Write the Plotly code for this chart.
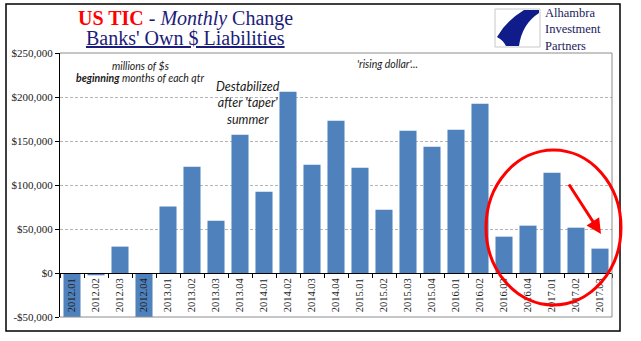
import plotly.graph_objects as go

# Monthly change in banks' own dollar liabilities (US TIC), millions of $
periods = ["2012.01", "2012.02", "2012.03", "2012.04",
           "2013.01", "2013.02", "2013.03", "2013.04",
           "2014.01", "2014.02", "2014.03", "2014.04",
           "2015.01", "2015.02", "2015.03", "2015.04",
           "2016.01", "2016.02", "2016.03", "2016.04",
           "2017.01", "2017.02", "2017.03"]
change = [-65000, -2600, 30000, -58000,
          75500, 120800, 59500, 157200,
          92400, 206100, 123100, 173100,
          119700, 72000, 161700, 143600,
          162900, 192400, 41300, 53800,
          114000, 51500, 27700]

y_ticks = [-50000, 0, 50000, 100000, 150000, 200000, 250000]
y_tick_text = ["-$50,000", "$0", "$50,000", "$100,000", "$150,000", "$200,000", "$250,000"]
y_range = [-50000, 250000]

W, H = 641, 341
ML, MR, MT, MB = 60, 29, 53, 24
PW, PH = W - ML - MR, H - MT - MB


def px(x):
    return (x - ML) / PW


def py(y):
    return (H - MB - y) / PH


def path(points, closed=True):
    cmds = []
    for p in points:
        op, coords = p[0], p[1:]
        vals = []
        for i in range(0, len(coords), 2):
            vals.append(f"{px(coords[i]):.5f},{py(coords[i + 1]):.5f}")
        cmds.append(op + " " + " ".join(vals))
    return " ".join(cmds) + (" Z" if closed else "")


NAVY = "#1c1c7a"
BAR = "#4f81bd"
SERIF = "Liberation Serif"
SANS = "Lato"

fig = go.Figure(go.Bar(x=periods, y=change, marker=dict(color=BAR, line=dict(width=0)),
                       width=0.71, hoverinfo="x+y"))

fig.update_layout(
    width=W, height=H,
    margin=dict(l=ML, r=MR, t=MT, b=MB),
    paper_bgcolor="white", plot_bgcolor="white",
    showlegend=False,
    xaxis=dict(type="category", anchor="free", position=(0 - y_range[0]) / (y_range[1] - y_range[0]),
               showline=True, linecolor="#000000", linewidth=1,
               ticks="outside", tickson="boundaries", ticklen=4, tickcolor="#000000",
               tickangle=-90, showgrid=False, zeroline=False,
               tickfont=dict(family=SERIF, size=10.5, color="#1a1a1a")),
    yaxis=dict(range=y_range, tickvals=y_ticks, ticktext=y_tick_text,
               showline=True, linecolor="#000000", linewidth=1,
               ticks="outside", ticklen=4, tickcolor="#000000",
               showgrid=True, gridcolor="#b4b4b4", griddash="3px,2px", gridwidth=1,
               zeroline=False,
               tickfont=dict(family=SERIF, size=11, color="#1a1a1a")),
)

shapes = []
# outer frame
shapes.append(dict(type="rect", xref="paper", yref="paper", x0=px(6), x1=px(620), y0=py(331), y1=py(4),
                   line=dict(color="#000000", width=1.5), layer="below"))
# plot-area frame (top, right, bottom)
shapes.append(dict(type="path", xref="paper", yref="paper",
                   path=path([("M", ML, MT), ("L", W - MR, MT), ("L", W - MR, H - MB), ("L", ML, H - MB)], closed=False),
                   line=dict(color="#8c8c8c", width=1), layer="above"))
# logo box and swoosh
shapes.append(dict(type="rect", xref="paper", yref="paper", x0=px(495), x1=px(540), y0=py(47), y1=py(9),
                   line=dict(color="#c8c8c8", width=1), fillcolor="white"))
shapes.append(dict(type="path", xref="paper", yref="paper",
                   path=path([("M", 539, 10), ("L", 524, 10), ("Q", 506, 21, 497, 37),
                              ("Q", 503, 40, 506, 46), ("L", 519, 46), ("Q", 522, 24, 539, 13)]),
                   line=dict(width=0), fillcolor="#101c8a"))
# red ellipse
shapes.append(dict(type="circle", xref="paper", yref="paper", x0=px(486), x1=px(621), y0=py(305), y1=py(150),
                   line=dict(color="#ff0000", width=3)))
fig.update_layout(shapes=shapes)

annotations = [
    dict(x=px(185), y=py(19), xref="paper", yref="paper", showarrow=False, xanchor="center", yanchor="middle",
         text=f"<b><span style='color:#ff0000'>US TIC</span></b> - <i>Monthly</i> Change",
         font=dict(family=SERIF, size=20, color=NAVY)),
    dict(x=px(185), y=py(38), xref="paper", yref="paper", showarrow=False, xanchor="center", yanchor="middle",
         text="<u>Banks' Own $ Liabilities</u>",
         font=dict(family=SERIF, size=20, color=NAVY)),
    dict(x=px(544), y=py(29.5), xref="paper", yref="paper", showarrow=False, xanchor="left", yanchor="middle",
         align="left", borderpad=0, text="Alhambra<br>Investment<br>Partners",
         font=dict(family=SERIF, size=12.5, color="#1a1a5e")),
    dict(x=px(140), y=py(66), xref="paper", yref="paper", showarrow=False, xanchor="center", yanchor="middle",
         text="<i>millions of $s</i>", font=dict(family=SANS, size=10.5, color="#1a1a1a")),
    dict(x=px(140), y=py(78), xref="paper", yref="paper", showarrow=False, xanchor="center", yanchor="middle",
         text="<b><i>beginning</i></b><i> months of each qtr</i>", font=dict(family=SANS, size=10.5, color="#1a1a1a")),
    dict(x=px(248), y=py(103), xref="paper", yref="paper", showarrow=False, xanchor="center", yanchor="middle",
         text="<i>Destabilized<br>after 'taper'<br>summer</i>", align="center",
         font=dict(family=SANS, size=12.5, color="#1a1a1a")),
    dict(x=px(387), y=py(64), xref="paper", yref="paper", showarrow=False, xanchor="center", yanchor="middle",
         text="<i>'rising dollar'...</i>", font=dict(family=SANS, size=10.5, color="#1a1a1a")),
    # red arrow
    dict(x=px(601), y=py(234), xref="paper", yref="paper", ax=568 - 601, ay=183 - 234, axref="pixel", ayref="pixel",
         showarrow=True, text="", arrowhead=2, arrowsize=1, arrowwidth=3, arrowcolor="#ff0000"),
]
fig.update_layout(annotations=annotations)

fig.write_html("out.html")
